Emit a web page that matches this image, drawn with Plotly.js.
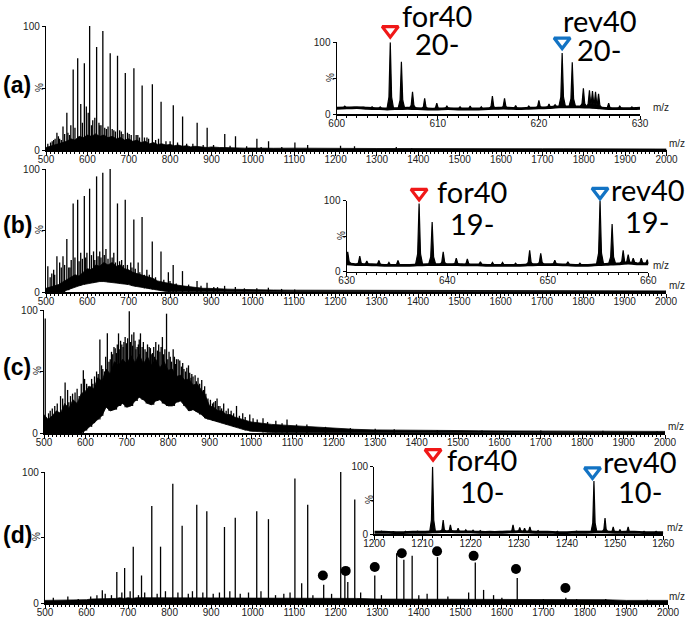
<!DOCTYPE html>
<html>
<head>
<meta charset="utf-8">
<script src="https://cdn.plot.ly/plotly-3.0.1.min.js"></script>
<style>
  html, body { margin: 0; padding: 0; background: #fff; }
  #chart { width: 685px; height: 617px; }
</style>
</head>
<body>
<div id="chart"></div>
<script>
// m/z grid used for the dense noise bands of the four full spectra
const grid = [500,510,520,530,540,550,560,570,580,590,600,610,620,630,640,650,660,670,680,690,
  700,710,720,730,740,750,760,770,780,790,800,810,820,830,840,850,860,870,880,890,
  900,910,920,930,940,950,960,970,980,990,1000,1050,1100,1150,1200,1250,1300,1350,1400,1450,
  1500,1550,1600,1650,1700,1750,1800,1850,1900,1950,2000];

// (a)
const aBandHi = [2,3,4,5,6,7,9,8,11,10, 12,11,13,11,12,10,11,9,10,8, 9,7,8,6,7,5,6,4.5,5,4,
  4.5,3.5,4,3,3.5,2.5,3,2.5,2.5,2, 2.5,2,2,2,1.8,2,1.6,1.8,1.5,1.6, 1.5,
  1.4,1.5,1.3,1.3,1.2,1.2,1.2,1.1,1.1,1,1,1,1,1,1,0.9,0.9,0.9,0.8,0.8];
const aPeakMz = [504.4,511,518.5,526.4,533,541.1,550.4,557,565.7,576.6,584,592.7,597.5,605.5,613,622.4,630,637.4,646,655.2,
  664,672.9,682,691.7,701,712.5,722,732.4,744,757.1,778.2,807.7,830.2,865.4,889.6,932.1,958.1,1009.8,1038,1101.7,
  1132.5,1212,1245.8,1346.8,1384,
  515,522,530,537,545,553,560,570,588,602,610,618,628,633,642,650,660,668,678,686,697,706,718,726,738,748,765,772,790,800,818,840,855,880,905,945,985,1020,1070];
const aPeakInt = [5,6,8,14,9,19,30,12,65,74,37,70,35,100,24,83,20,96,17,78,
  16,76,15,62,13,66,12,52,10,53,39,36,27,22,18,13,11,9,7,6,
  4,3.5,3,2.5,1.5,
  7,9,11,8,13,14,20,18,22,30,20,26,22,20,18,19,17,15,16,13,14,12,12,10,10,9,8,9,7,7,6,5,5,4,4,3.5,3,2.5,2.5];

// (b)
const bBandHi = [3,4,5,6,8,10,12,14,13,16, 19,18,22,21,24,22,24,21,22,19, 18,16,15,14,13,12,11,9,8,7.5,
  7,6,5.5,5,4.5,4,3.5,3.5,3,3, 3,2.8,2.5,2.5,2.3,2.2,2,2,2,1.8, 1.8,
  1.6,1.5,1.5,1.4,1.4,1.3,1.3,1.2,1.2,1.2,1.1,1.1,1.1,1,1,1,1,1,0.9,0.9];
const bBandLo = [0,0,0,0,0,1.5,3,4,5,6, 7,7.5,8,8.5,8.5,8,8,7.5,7,6.5, 6,5,4.5,4,3,2.5,2,1.5,1,0.5,
  0,0,0,0,0,0,0,0,0,0, 0,0,0,0,0,0,0,0,0,0, 0,
  0,0,0,0,0,0,0,0,0,0,0,0,0,0,0,0,0,0,0,0];
const bPeakMz = [504.4,518.5,526.4,533,541.1,550.4,558,565.7,576.6,584,592.7,599,605.5,615,622.4,630,637.4,645,655.2,664,
  672.9,683,691.7,705,712.5,723,732.4,744,757.1,778.2,796,807.7,830.2,865.4,889.6,906,932.1,958.1,1038,1101.7,
  510,514,521,537,545,555,561,570,580,588,596,610,618,626,633,641,650,660,668,678,687,697,708,716,727,738,750,765,785,800,815,845,875,915,980,1010,1070];
const bPeakInt = [21,18,29,24,29,43,20,72,75,32,78,32,84,33,94,33,97,35,100,32,
  72,26,75,24,59,24,61,18,41,33,16,22,17,9,7.5,4,5,4,3.5,2,
  12,15,14,20,22,20,26,28,25,27,28,30,26,29,28,30,27,28,24,25,22,22,20,19,16,14,14,12,10,9,7,6,5,4,3,3,2.5];

// (c)
const cBandHi = [15,11,14,18,16,24,20,27,24,32, 34,38,36,45,42,52,48,58,55,60, 56,63,57,64,56,62,55,60,53,58,
  51,52,46,47,43,44,39,40,35,30, 22,21,18,18,15,15,13,12,11,10, 9,
  7,6,4.5,3.5,3,2.5,2.5,2,2,2,1.8,1.8,1.6,1.6,1.5,1.5,1.4,1.4,1.3,1.3];
const cBandLo = [0,0,0,0,0,0,0,0,0,0, 2,5,8,11,14,21,18,19,22,24, 21,22,26,29,27,24,23,26,27,24,
  22,22,25,26,22,18,19,17,15,12, 11,10,9,8,7,6,5,4,3,2, 1.5,
  0.5,0,0,0,0,0,0,0,0,0,0,0,0,0,0,0,0,0,0,0];
const cPeakMz = [503,511,526,540,551,560,569,585,595,611,622,635,646,653,660,669,675,680,688,696,
  706,717,725,733,744,754,762,770,786,796,805,812,820,828,838,849,857,865,872,881,
  891,902,910,918,925,934,945,965,980,997,1015,1029,1060,1087,1110,1135,1180,1240,1300,1346,
  1450,1558,1700,1850,1981,
  515,520,532,545,557,564,575,580,590,598,603,607,615,618,627,631,639,642,649,657,
  663,666,672,677,683,685,691,693,699,702,709,712,714,720,722,728,730,737,740,747,
  750,757,759,765,767,774,777,780,783,789,792,799,802,808,815,818,824,832,835,842,
  845,852,855,860,868,876,885,888,896,907,914,921,929,940,952,958,972,986,1005,1040,1075];
const cPeakInt = [93,16,22,30,41,25,32,30,51,35,46,76,50,81,60,70,65,81,72,78,
  99,82,70,81,68,70,65,74,78,97,62,68,60,59,52,55,48,47,45,43,
  32,27,25,28,22,24,20,22,16,15,11,12,10,11,7,7,5,4,3.5,3,
  2.5,2,2,1.8,1.5,
  18,20,24,28,35,30,33,36,40,44,40,38,44,40,50,48,55,52,62,58,
  66,64,69,72,68,75,70,74,73,77,74,80,71,75,68,72,76,70,74,66,
  72,69,64,70,62,67,72,66,70,64,68,60,66,58,62,56,60,54,57,50,
  53,49,45,46,42,40,35,38,28,24,26,22,20,18,18,16,14,13,12,9,8];

// (d)
const dBandHi = [2,2,2.5,2,2,2.5,2,2.5,2,2.5, 2.5,3,3,3.5,3,3.5,3,3.5,4,3.5, 4,3.5,4,4,3.5,4,4,3.5,4,4,
  4,4,3.5,4,4,3.5,4,4,3.5,4, 4,3.5,4,3.5,4,3.5,3.5,4,3.5,3.5, 3.5,
  3.5,3.5,3.5,3.5,3.5,3,3,3,3,3,3,2.5,2.5,2.5,2.5,2.5,2.5,2,2,2];
const dPeakMz = [638,672.9,691.7,712.5,732.4,757.1,778.2,807.7,830.2,865.4,889.6,932.1,958.1,1009.8,1038,1101.7,1118,1132.5,1171,1212,
  1222,1229,1245.8,1294,1346.8,1364,1384,1445,1536,1556,1580,1637,1754,
  520,555,580,610,625,645,660,685,705,725,740,770,790,820,845,855,880,905,920,945,970,990,1020,1055,1075,1090,1145,1190,1260,1310,1400,1420,1470,1520,1600,1700,1780,1850,1950];
const dPeakInt = [9.7,23.7,26.7,43,21,74,43,91,59,75,70,58,65,70,64,95,15,75,14,100,
  25,16,79,21,38,33,36,35,31,10,6,19,4,
  4,5,3,5,6,7,6,8,9,6,8,7,9,8,7,9,8,7,8,9,7,8,9,6,7,8,6,7,8,6,6,7,5,8,4,3,3,3,2.5];
const dDotMz = [1169,1224,1294,1359,1444,1532,1634,1753];
const dDotPct = [21,24.5,27.5,38,39.5,36,26,11.5];

// inset (a): 600-630
const iaBaseMz = [600,601,602,603,604,605,606,607,608,609,610,611,612,613,614,615,616,617,618,619,620,621,622,623,624,625,626,627,628,629,630];
const iaBase = [8,8.5,9,8,7.5,7,7.5,8,7.5,7,7,7.5,7,7,7,7.5,8,8,7.5,8,8.5,9,10,10,10,9.5,8.5,7.5,7.5,7.5,8];
const iaPeakMz = [600.8,601.6,602.5,603.5,604.3,605.3,606.4,607.5,608.7,609.9,610.9,612.2,613.2,614.3,615.4,616.6,617.7,619.0,620.0,621.0,
  621.6,622.3,623.3,624.4,625.0,625.3,625.6,625.9,626.9,628.0,629.2];
const iaPeakInt = [11,10,10,10,10,100,73,31,22,15,11,10,11,10,25,22,12,11,19,14,13,85,72,36,33,32,31,28,15,11,10];
const iaMarkMz = [605.3, 622.3];
const iaMarkPct = [117, 101];

// inset (b): 630-660
const ibBaseMz = [630,631,632,633,634,635,636,637,638,639,640,641,642,643,644,645,646,647,648,649,650,651,652,653,654,655,656,657,658,659,660];
const ibBase = [11,10,10,9.5,9,9,9,9.5,10,10,10,10,9.5,9.5,9,9,9,9,9.5,10,10,10,9.5,9,9,10,10.5,11,12,11,11];
const ibPeakMz = [630.1,631.3,632.0,633.2,634.2,635.1,637.2,638.5,639.6,640.9,642.0,643.3,644.5,645.5,646.8,648.2,649.3,650.7,652.0,653.2,
  655.2,656.4,657.5,658.0,658.5,659.3,659.9];
const ibPeakInt = [28,22,15,16,13,16,96,70,28,19,18,14,13,13,12,30,26,16,14,12,100,67,30,24,19,19,17];
const ibMarkMz = [637.2, 655.2];
const ibMarkPct = [111, 112.5];

// inset (d): 1200-1260
const idBaseMz = [1200,1202,1204,1206,1208,1210,1212,1214,1216,1218,1220,1222,1224,1226,1228,1230,1232,1234,1236,1238,1240,1242,1244,1246,1248,1250,1252,1254,1256,1258,1260];
const idBase = [3,3,2.5,2.5,3,3,3.5,4,4,3.5,3.5,3,3,3,3.5,4,3.5,3,3,2.5,2.5,3,3,3.5,3.5,3,3,3,2.5,2.5,2.5];
const idPeakMz = [1201.5,1204,1206.5,1209,1212.1,1214.3,1215.8,1217.4,1219,1220.5,1222,1228.8,1230.2,1231.2,1232.3,1234,1238,1242,1245.6,1247.9,
  1249.6,1251,1252.7,1256,1258.5];
const idPeakInt = [4.5,4,4.5,4.5,100,21,14,9,6.5,6,5.5,14,10,9,11,5.5,4.5,4.5,79,24,11,7,11,4.5,4.5];
const idMarkMz = [1212.2, 1245.3];
const idMarkPct = [120, 93];

const W = 685, H = 617;
const px = v => v / W;
const py = v => 1 - v / H;
const TICKFONT = { family: 'Liberation Sans, Arial, sans-serif', size: 10, color: '#222' };
const RED = '#f01818', BLUE = '#1273c4';

function nearest(xs, v) {
  let b = 0;
  for (let i = 1; i < xs.length; i++) if (Math.abs(xs[i] - v) < Math.abs(xs[b] - v)) b = i;
  return b;
}

function band(hi, lo, xa, ya) {
  if (!lo) {
    return { x: grid, y: hi, xaxis: xa, yaxis: ya, type: 'scatter', mode: 'lines', fill: 'tozeroy',
      fillcolor: '#000', line: { color: '#000', width: 0.8 }, hoverinfo: 'skip' };
  }
  return { x: grid.concat(grid.slice().reverse()), y: hi.concat(lo.slice().reverse()),
    xaxis: xa, yaxis: ya, type: 'scatter', mode: 'lines', fill: 'toself',
    fillcolor: '#000', line: { color: '#000', width: 0.8 }, hoverinfo: 'skip' };
}

function sticks(mz, ints, lo, xa, ya) {
  const x = [], y = [];
  mz.forEach((m, i) => {
    const b = lo ? lo[nearest(grid, m)] : 0;
    x.push(m, m, null); y.push(b, ints[i], null);
  });
  return { x, y, xaxis: xa, yaxis: ya, type: 'scatter', mode: 'lines',
    line: { color: '#000', width: 1.3 }, connectgaps: false, hoverinfo: 'skip' };
}

function profile(baseMz, base, mz, ints, half, xa, ya) {
  const x = [], y = [];
  mz.forEach((m, i) => {
    const b = base[nearest(baseMz, m)], h = ints[i];
    const s = b + (h - b) * 0.18;
    x.push(m - half, m - half * 0.4, m, m + half * 0.4, m + half, null);
    y.push(b, s, h, s, b, null);
  });
  return [
    { x: baseMz, y: base, xaxis: xa, yaxis: ya, type: 'scatter', mode: 'lines',
      line: { color: '#000', width: 2.8, shape: 'spline', smoothing: 0.6 }, hoverinfo: 'skip' },
    { x, y, xaxis: xa, yaxis: ya, type: 'scatter', mode: 'lines', fill: 'toself', fillcolor: '#000',
      line: { color: '#000', width: 1.2 }, connectgaps: false, hoverinfo: 'skip' }
  ];
}

function marks(mz, pct, xa, ya) {
  return { x: mz, y: pct, xaxis: xa, yaxis: ya, type: 'scatter', mode: 'markers', cliponaxis: false,
    marker: { symbol: 'triangle-down-open', size: 14, color: [RED, BLUE], line: { width: 3.2 } },
    hoverinfo: 'skip' };
}

const traces = [
  band(aBandHi, null, 'x', 'y'), sticks(aPeakMz, aPeakInt, null, 'x', 'y'),
  band(bBandHi, bBandLo, 'x2', 'y2'), sticks(bPeakMz, bPeakInt, bBandLo, 'x2', 'y2'),
  band(cBandHi, cBandLo, 'x3', 'y3'), sticks(cPeakMz, cPeakInt, cBandLo, 'x3', 'y3'),
  band(dBandHi, null, 'x4', 'y4'), sticks(dPeakMz, dPeakInt, null, 'x4', 'y4'),
  { x: dDotMz, y: dDotPct, xaxis: 'x4', yaxis: 'y4', type: 'scatter', mode: 'markers',
    marker: { color: '#000', size: 10 }, hoverinfo: 'skip' },
  ...profile(iaBaseMz, iaBase, iaPeakMz, iaPeakInt, 0.33, 'x5', 'y5'),
  ...profile(ibBaseMz, ibBase, ibPeakMz, ibPeakInt, 0.36, 'x6', 'y6'),
  ...profile(idBaseMz, idBase, idPeakMz, idPeakInt, 0.6, 'x7', 'y7'),
  // triangles sit above 100 %, so they use taller hidden axes on the same scale
  marks(iaMarkMz, iaMarkPct, 'x5', 'y8'),
  marks(ibMarkMz, ibMarkPct, 'x6', 'y9'),
  marks(idMarkMz, idMarkPct, 'x7', 'y10')
];

function xAxis(x0, x1, yName, range, dtick, minor, lw) {
  return { domain: [px(x0), px(x1)], anchor: yName, range: range, tick0: range[0], dtick: dtick,
    ticks: 'outside', ticklen: 4, tickwidth: 1, tickcolor: '#000', ticklabelstandoff: -5,
    showline: true, linewidth: lw, linecolor: '#000', showgrid: false, zeroline: false,
    minor: { dtick: minor, ticks: 'outside', ticklen: 2, tickwidth: 1, tickcolor: '#000', showgrid: false },
    tickfont: TICKFONT, fixedrange: true };
}
function yAxis(y0, y100, xName) {
  return { domain: [py(y0), py(y100)], anchor: xName, range: [0, 100],
    tickvals: [0, 50, 100], ticktext: ['0', '', '100'], ticks: 'outside', ticklen: 3, tickwidth: 1,
    tickcolor: '#000', showline: true, linewidth: 1.2, linecolor: '#000', showgrid: false, zeroline: false,
    tickfont: TICKFONT, fixedrange: true };
}
function markAxis(y0, y100, xName) {
  const top = y0 - 1.4 * (y0 - y100);
  return { domain: [py(y0), py(top)], anchor: xName, range: [0, 140], visible: false, fixedrange: true };
}

const annotations = [];
function note(text, x, y, size, opts) {
  annotations.push(Object.assign({ text: text, x: px(x), y: py(y), xref: 'paper', yref: 'paper',
    showarrow: false, xanchor: 'center', yanchor: 'middle',
    font: { family: 'Lato, Open Sans, sans-serif', size: size, color: '#000' } }, opts || {}));
}
// panel letters
[['(a)', 85], ['(b)', 225], ['(c)', 367], ['(d)', 535]].forEach(([t, y]) =>
  note('<b>' + t + '</b>', 17, y, 23, { font: { family: 'Liberation Sans, Arial, sans-serif', size: 23, color: '#000' } }));
// % labels on y axes
[[39, 88], [39, 230], [37, 371], [36, 537], [331, 78], [341, 236], [369, 500]].forEach(([x, y]) =>
  note('%', x, y, 10, { textangle: -90, font: TICKFONT }));
// m/z labels
[[667, 150], [667, 292], [666, 433], [667, 603], [651, 114], [651, 271.7], [665, 534.3]].forEach(([x, y]) =>
  note('m/z', x, y + 1, 10, { xanchor: 'left', yanchor: 'bottom', font: TICKFONT }));
// ion labels
const ionFont = 29;
note('for40', 437, 15, ionFont); note('20-', 437, 43, ionFont);
note('rev40', 600, 21, ionFont); note('20-', 599, 49, ionFont);
note('for40', 472, 192, ionFont); note('19-', 472, 223, ionFont);
note('rev40', 648, 189, ionFont); note('19-', 647, 221, ionFont);
note('for40', 482, 459, ionFont); note('10-', 482, 491, ionFont);
note('rev40', 640, 461, ionFont); note('10-', 640, 491, ionFont);

const layout = {
  width: W, height: H, margin: { l: 0, r: 0, t: 0, b: 0 },
  paper_bgcolor: '#fff', plot_bgcolor: 'rgba(0,0,0,0)', showlegend: false,
  xaxis: xAxis(46, 666.5, 'y', [500, 2000], 100, 10, 2.2), yaxis: yAxis(150, 26, 'x'),
  xaxis2: xAxis(46, 666, 'y2', [500, 2000], 100, 10, 2.2), yaxis2: yAxis(292, 169, 'x2'),
  xaxis3: xAxis(44, 665, 'y3', [500, 2000], 100, 10, 2.2), yaxis3: yAxis(433, 310, 'x3'),
  xaxis4: xAxis(45, 668, 'y4', [500, 2000], 100, 10, 2.2), yaxis4: yAxis(603, 472, 'x4'),
  xaxis5: xAxis(336.7, 640, 'y5', [600, 630], 10, 1, 1.5), yaxis5: yAxis(114, 42.3, 'x5'),
  xaxis6: xAxis(346.7, 648.3, 'y6', [630, 660], 10, 1, 1.5), yaxis6: yAxis(271.7, 200.7, 'x6'),
  xaxis7: xAxis(374.3, 663.3, 'y7', [1200, 1260], 10, 2, 1.5), yaxis7: yAxis(534.3, 466.7, 'x7'),
  yaxis8: markAxis(114, 42.3, 'x5'),
  yaxis9: markAxis(271.7, 200.7, 'x6'),
  yaxis10: markAxis(534.3, 466.7, 'x7'),
  annotations: annotations
};

Plotly.newPlot('chart', traces, layout, { staticPlot: true, displayModeBar: false });
</script>
</body>
</html>
